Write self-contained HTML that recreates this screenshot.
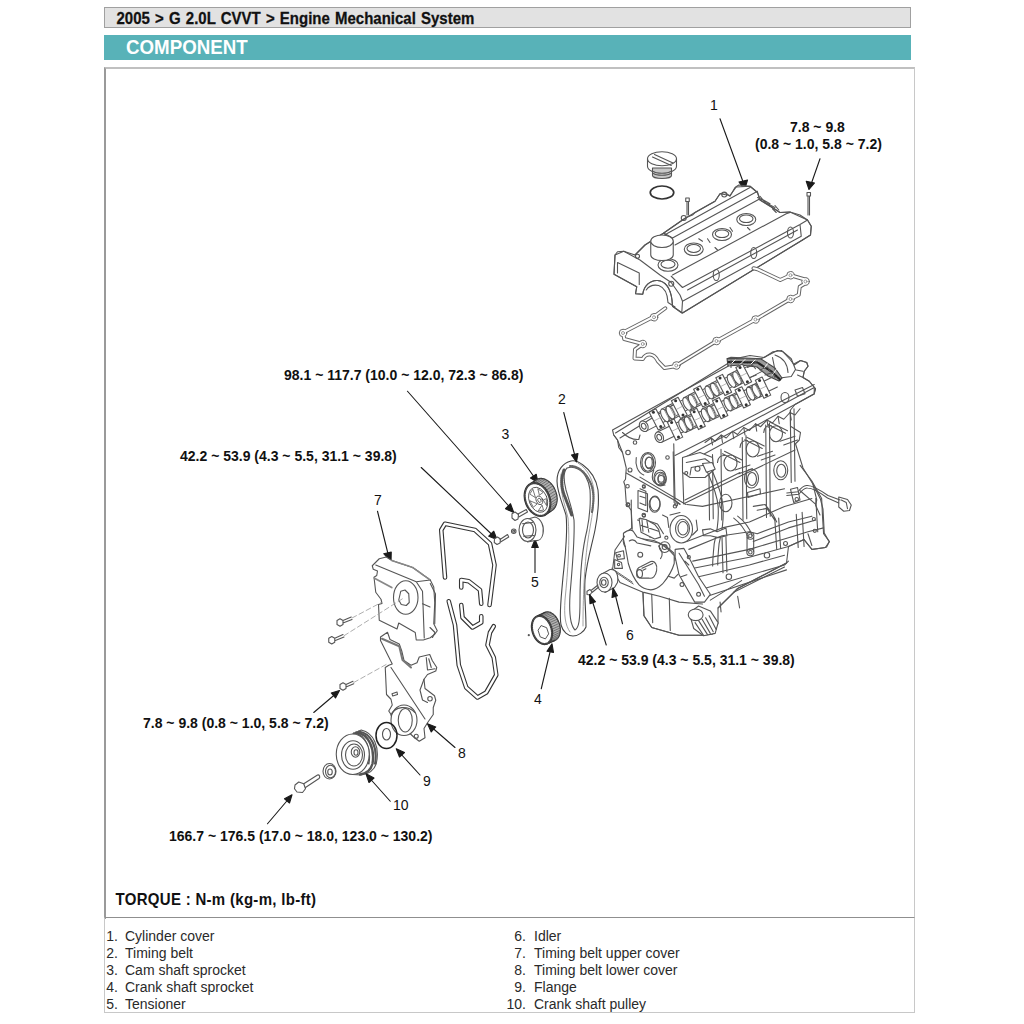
<!DOCTYPE html>
<html><head><meta charset="utf-8">
<style>
html,body{margin:0;padding:0;background:#fff;}
body{width:1024px;height:1024px;position:relative;overflow:hidden;font-family:"Liberation Sans",sans-serif;}
.hdr{position:absolute;left:104px;top:7px;width:805px;height:19px;background:#e2e2e2;border:1.5px solid #a0a0a0;}
.hdr span{position:absolute;left:11.5px;top:2px;font-size:15px;font-weight:bold;color:#111;white-space:nowrap;word-spacing:1px;transform:scaleY(1.1);transform-origin:0 80%;-webkit-text-stroke:0.25px #111;}
.teal{position:absolute;left:104px;top:35px;width:807px;height:25px;background:#58b2b8;}
.teal span{position:absolute;left:22px;top:1px;font-size:19.5px;font-weight:bold;color:#fff;transform:scaleX(0.96);transform-origin:0 0;white-space:nowrap;}
.box{position:absolute;left:104px;top:67px;width:808px;height:850px;border:2px solid #9a9a9a;border-right:1px solid #c8c8c8;border-top:2px solid #c0c0c0;border-bottom:none;}
.list{position:absolute;left:104px;top:917px;width:809px;height:94px;border:1px solid #c8c8c8;border-top:1.5px solid #8f8f8f;}
.t{position:absolute;white-space:nowrap;color:#111;}
.b{font-weight:bold;font-size:14px;}
.n{font-size:14px;}
.li{position:absolute;font-size:14px;color:#2a2a2a;white-space:nowrap;}
.num{position:absolute;font-size:14px;color:#2a2a2a;width:40px;text-align:right;}
svg{position:absolute;left:0;top:0;}
svg *{vector-effect:non-scaling-stroke;}
</style></head><body>
<div class="hdr"><span>2005 &gt; G 2.0L CVVT &gt; Engine Mechanical System</span></div>
<div class="teal"><span>COMPONENT</span></div>
<div class="box"></div>
<div class="list"></div>

<div class="t b" style="left:115.5px;top:891px;font-size:15px;letter-spacing:0.3px;transform:scaleY(1.15);transform-origin:0 80%;">TORQUE : N-m (kg-m, lb-ft)</div>

<div class="num" style="left:78px;top:927.5px;">1.</div><div class="li" style="left:125px;top:927.5px;">Cylinder cover</div>
<div class="num" style="left:486px;top:927.5px;">6.</div><div class="li" style="left:534px;top:927.5px;">Idler</div>
<div class="num" style="left:78px;top:944.6px;">2.</div><div class="li" style="left:125px;top:944.6px;">Timing belt</div>
<div class="num" style="left:486px;top:944.6px;">7.</div><div class="li" style="left:534px;top:944.6px;">Timing belt upper cover</div>
<div class="num" style="left:78px;top:961.7px;">3.</div><div class="li" style="left:125px;top:961.7px;">Cam shaft sprocket</div>
<div class="num" style="left:486px;top:961.7px;">8.</div><div class="li" style="left:534px;top:961.7px;">Timing belt lower cover</div>
<div class="num" style="left:78px;top:978.8px;">4.</div><div class="li" style="left:125px;top:978.8px;">Crank shaft sprocket</div>
<div class="num" style="left:486px;top:978.8px;">9.</div><div class="li" style="left:534px;top:978.8px;">Flange</div>
<div class="num" style="left:78px;top:995.9px;">5.</div><div class="li" style="left:125px;top:995.9px;">Tensioner</div>
<div class="num" style="left:486px;top:995.9px;">10.</div><div class="li" style="left:534px;top:995.9px;">Crank shaft pulley</div>

<div class="t b" style="left:284px;top:367px;">98.1 ~ 117.7 (10.0 ~ 12.0, 72.3 ~ 86.8)</div>
<div class="t b" style="left:180px;top:448px;">42.2 ~ 53.9 (4.3 ~ 5.5, 31.1 ~ 39.8)</div>
<div class="t b" style="left:578px;top:652px;">42.2 ~ 53.9 (4.3 ~ 5.5, 31.1 ~ 39.8)</div>
<div class="t b" style="left:143px;top:715px;">7.8 ~ 9.8 (0.8 ~ 1.0, 5.8 ~ 7.2)</div>
<div class="t b" style="left:169px;top:828px;">166.7 ~ 176.5 (17.0 ~ 18.0, 123.0 ~ 130.2)</div>
<div class="t b" style="left:790px;top:119px;">7.8 ~ 9.8</div>
<div class="t b" style="left:755px;top:136px;">(0.8 ~ 1.0, 5.8 ~ 7.2)</div>

<div class="t n" style="left:710px;top:97px;">1</div>
<div class="t n" style="left:558px;top:391px;">2</div>
<div class="t n" style="left:501.5px;top:426px;">3</div>
<div class="t n" style="left:534px;top:691px;">4</div>
<div class="t n" style="left:531px;top:574px;">5</div>
<div class="t n" style="left:626px;top:627px;">6</div>
<div class="t n" style="left:374px;top:492px;">7</div>
<div class="t n" style="left:458px;top:745px;">8</div>
<div class="t n" style="left:423px;top:773px;">9</div>
<div class="t n" style="left:393px;top:797px;">10</div>

<svg width="1024" height="1024" viewBox="0 0 1024 1024" fill="none" stroke="#555" stroke-width="1.1" stroke-linejoin="round" stroke-linecap="round">
<!-- COVER: B coords page = 600 + x/4, 140 + y/4 -->
<g transform="translate(600,140) scale(0.25)">
 <!-- oil cap -->
 <path d="M190,75 A58,28 0 0 1 306,75 L306,105 A58,28 0 0 1 190,105 Z" fill="#fff"/>
 <path d="M190,75 A58,28 0 0 0 306,75"/>
 <path d="M218,58 L292,92 M210,68 L285,102"/>
 <path d="M210,112 L210,142 A38,12 0 0 0 286,142 L286,112 Z" fill="#c8c8c8"/>
 <path d="M214,126 A36,10 0 0 0 282,126 M214,134 A36,10 0 0 0 282,134"/>
 <ellipse cx="248" cy="210" rx="47" ry="26" stroke="#333" stroke-width="1.7"/>
 <!-- bolts -->
 <path d="M343,232 L357,232 L357,246 L343,246 Z M348,246 L348,300 M354,246 L354,300"/>
 <path d="M828,210 L842,210 L842,224 L828,224 Z M832,224 L832,300 M838,224 L838,300"/>
 <!-- arrows -->
 <path d="M480,-85 L575,175" stroke="#1a1a1a"/>
 <path d="M578,200 L556,168 L590,160 Z" fill="#1a1a1a" stroke="#1a1a1a"/>
 <path d="M880,75 L845,175" stroke="#1a1a1a"/>
 <path d="M836,198 L825,165 L858,172 Z" fill="#1a1a1a" stroke="#1a1a1a"/>
 <!-- cover body silhouette fill -->
 <path d="M60,460 L95,445 L140,460 L180,420 L255,372 L330,320 L380,290 L460,245 L480,215 L520,222 L545,188 L600,185 L630,210 L640,240 L720,290 L760,288 L830,320 L845,345 L842,380 L810,400 L330,692 L290,665 L288,640 C282,595 262,565 230,562 C200,560 175,585 171,617 L142,615 L147,587 L56,537 Z" fill="#fff"/>
 <!-- end face -->
 <path d="M60,460 L56,537 L147,587 L142,615 L171,617 C175,585 200,560 230,562 C262,565 282,595 288,640 L290,665 L327,692 L330,645 L320,620 L285,570 L240,540 L160,480 L95,445 L70,447 Z"/>
 <path d="M70,490 L157,532 L157,578 M70,490 L70,532"/>
 <path d="M185,600 C195,585 215,578 235,582 C258,590 270,612 272,650 M272,650 L300,668"/>
 <!-- back ridge -->
 <path d="M140,460 L180,420 L255,372 L330,320 L345,310 L370,300 L380,290 L460,245 L480,215 L500,210 L520,225 L540,190 L555,180 L600,185 L630,210 L640,240 L690,270 L720,290 L760,288 L800,300 L830,320 L845,345 L842,380 L810,400"/>
 <path d="M255,372 L290,392 L630,205 M290,392 L290,410 M258,380 L600,190"/>
 <path d="M300,420 L640,235"/>
 <!-- front rail -->
 <path d="M290,540 L745,295 L760,290 M330,590 L800,338 L830,320 M330,645 L805,385 M330,692 L810,400 M800,338 L805,385 M285,545 L330,590"/>
 <path d="M350,600 L790,360"/>
 <!-- plug holes -->
 <ellipse cx="272" cy="500" rx="40" ry="25"/><ellipse cx="272" cy="497" rx="28" ry="16"/>
 <ellipse cx="375" cy="437" rx="38" ry="25"/><ellipse cx="375" cy="434" rx="27" ry="16"/>
 <ellipse cx="488" cy="378" rx="38" ry="24"/><ellipse cx="488" cy="375" rx="27" ry="15"/>
 <ellipse cx="585" cy="318" rx="38" ry="24"/><ellipse cx="585" cy="315" rx="27" ry="15"/>
 <!-- filler neck -->
 <path d="M203,405 L203,460 A45,22 0 0 0 293,460 L293,405" fill="#fff"/>
 <ellipse cx="248" cy="405" rx="45" ry="25" fill="#fff"/>
 <!-- tabs -->
 <ellipse cx="465" cy="540" rx="12" ry="22"/><ellipse cx="615" cy="452" rx="12" ry="22"/><ellipse cx="762" cy="370" rx="12" ry="22"/>
 <!-- bosses and details -->
 <circle cx="335" cy="312" r="10"/><circle cx="497" cy="218" r="10"/>
 <path d="M630,230 L650,240 M640,225 L660,250 M650,238 L680,255 M660,250 L700,270 M690,275 L705,290 M700,262 L715,280"/>
 <path d="M395,395 L410,405 M430,395 L440,410 M520,350 L530,365 M460,430 L470,440 M590,350 L600,360"/>
 <circle cx="150" cy="465" r="8"/><circle cx="285" cy="575" r="10"/>
 <!-- gasket -->
 <path d="M261,673 L216,706 L92,770 L97,796 L171,816 L140,838 L138,874 L171,876 C185,850 215,852 232,885 L258,912 L300,905 L466,804 L622,718 L762,636 L795,619 L799,587 L827,570 L827,560 L762,541 L721,560 L630,517 L614,513" stroke="#666" stroke-width="4"/>
 <circle cx="216" cy="709" r="15" fill="#fff" stroke="#666" stroke-width="1"/>
 <circle cx="92" cy="772" r="15" fill="#fff" stroke="#666" stroke-width="1"/>
 <circle cx="171" cy="816" r="15" fill="#fff" stroke="#666" stroke-width="1"/>
 <circle cx="305" cy="902" r="15" fill="#fff" stroke="#666" stroke-width="1"/>
 <circle cx="466" cy="804" r="15" fill="#fff" stroke="#666" stroke-width="1"/>
 <circle cx="622" cy="718" r="15" fill="#fff" stroke="#666" stroke-width="1"/>
 <circle cx="762" cy="636" r="15" fill="#fff" stroke="#666" stroke-width="1"/>
 <circle cx="822" cy="566" r="15" fill="#fff" stroke="#666" stroke-width="1"/>
 <circle cx="762" cy="541" r="15" fill="#fff" stroke="#666" stroke-width="1"/>
 <path d="M261,673 L216,706 L92,770 L97,796 L171,816 L140,838 L138,874 L171,876 C185,850 215,852 232,885 L258,912 L300,905 L466,804 L622,718 L762,636 L795,619 L799,587 L827,570 L827,560 L762,541 L721,560 L630,517 L614,513" stroke="#fff" stroke-width="2"/>
 <circle cx="216" cy="709" r="6" stroke="#888" stroke-width="0.8"/>
 <circle cx="92" cy="772" r="6" stroke="#888" stroke-width="0.8"/>
 <circle cx="171" cy="816" r="6" stroke="#888" stroke-width="0.8"/>
 <circle cx="305" cy="902" r="6" stroke="#888" stroke-width="0.8"/>
 <circle cx="466" cy="804" r="6" stroke="#888" stroke-width="0.8"/>
 <circle cx="622" cy="718" r="6" stroke="#888" stroke-width="0.8"/>
 <circle cx="762" cy="636" r="6" stroke="#888" stroke-width="0.8"/>
 <circle cx="822" cy="566" r="6" stroke="#888" stroke-width="0.8"/>
 <circle cx="762" cy="541" r="6" stroke="#888" stroke-width="0.8"/>
</g>
</g>

<!-- ENGINE: C coords page = 600 + x/4, 340 + y/4 -->
<g transform="translate(600,340) scale(0.25)">
 <path d="M50,360 L512,105 L525,78 L600,62 L657,70 L692,47 L727,42 L762,80 L777,100 L802,82 L827,90 L832,105 L817,125 L812,150 L837,165 L862,195 L857,215 L780,258 L762,280 L762,345 L802,370 L797,400 L782,415 L812,512 L852,577 L882,637 L892,677 L897,772 L917,807 L907,827 L902,830 L848,838 L816,798 L754,826 L746,892 L551,994 L472,1072 L472,1134 L449,1177 L410,1181 L316,1181 L207,1150 L176,1103 L172,1009 L80,970 L50,920 L60,840 L100,782 L115,762 L127,752 L125,682 L105,652 L100,582 L95,567 L102,557 L105,512 L90,450 L70,400 L55,380 Z" fill="#fff"/>
 <!-- head top edges -->
 <path d="M55,380 L70,400 L75,430 L90,450 M62,372 L519,89 M80,392 L300,255"/>
 <!-- chain housing -->
 <path d="M512,73 L524,69 L645,75 L710,42 L732,47 L765,75 L782,118 L765,146 L720,152"/>
 <path d="M508,74 L644,76 L700,112 L728,152 L716,164 L672,144 L628,108 L560,100 L512,104 Z" fill="#9a9a9a" stroke="#444"/>
 <path d="M515,88 L630,90 L686,126 L720,158" stroke="#222" stroke-width="2.2" stroke-dasharray="1.5 1.5"/>
 <path d="M520,100 L540,80 M560,98 L580,78 M600,100 L620,80 M650,120 L670,95 M690,140 L705,118" stroke="#fff" stroke-width="1"/>
 <path d="M524,80 L524,110 M700,60 C730,70 750,95 752,130 M690,70 L700,120"/>
 <path d="M777,95 L802,82 L827,90 L832,105 L817,125 L812,150 L837,165 L862,195 L857,210 M790,140 L812,150 M785,120 L812,125"/>
 <!-- camshafts -->
 <path d="M185.1,364.5 L650.1,124.5 M164.9,325.5 L629.9,85.5"/>
 <ellipse cx="259.4" cy="301.4" rx="13" ry="28" transform="rotate(-27.3 259.4 301.4)" fill="#fff"/>
 <path d="M272.3,326.3 L291.8,316.2 M246.6,276.5 L266.1,266.5"/>
 <path d="M275.7,315.5 L257.4,280.0 M281.9,312.3 L263.6,276.8" stroke="#888" stroke-width="0.8"/>
 <ellipse cx="281.6" cy="290.0" rx="13" ry="28" transform="rotate(-27.3 281.6 290.0)" fill="#fff"/>
 <path d="M294.5,314.8 L314.0,304.8 M268.8,265.1 L288.3,255.0"/>
 <path d="M297.9,304.1 L279.6,268.5 M304.1,300.9 L285.8,265.3" stroke="#888" stroke-width="0.8"/>
 <ellipse cx="348.3" cy="255.6" rx="13" ry="28" transform="rotate(-27.3 348.3 255.6)" fill="#fff"/>
 <path d="M361.1,280.4 L380.7,270.4 M335.4,230.7 L355.0,220.6"/>
 <path d="M364.6,269.7 L346.2,234.1 M370.8,266.5 L352.4,230.9" stroke="#888" stroke-width="0.8"/>
 <ellipse cx="370.5" cy="244.1" rx="13" ry="28" transform="rotate(-27.3 370.5 244.1)" fill="#fff"/>
 <path d="M383.3,269.0 L402.9,258.9 M357.7,219.2 L377.2,209.1"/>
 <path d="M386.8,258.2 L368.4,222.7 M393.0,255.0 L374.7,219.4" stroke="#888" stroke-width="0.8"/>
 <ellipse cx="437.1" cy="209.7" rx="13" ry="28" transform="rotate(-27.3 437.1 209.7)" fill="#fff"/>
 <path d="M450.0,234.6 L469.5,224.5 M424.3,184.8 L443.9,174.7"/>
 <path d="M453.4,223.8 L435.1,188.3 M459.6,220.6 L441.3,185.0" stroke="#888" stroke-width="0.8"/>
 <ellipse cx="459.4" cy="198.2" rx="13" ry="28" transform="rotate(-27.3 459.4 198.2)" fill="#fff"/>
 <path d="M472.2,223.1 L491.8,213.0 M446.5,173.4 L466.1,163.3"/>
 <path d="M475.6,212.3 L457.3,176.8 M481.9,209.1 L463.5,173.6" stroke="#888" stroke-width="0.8"/>
 <ellipse cx="526.0" cy="163.8" rx="13" ry="28" transform="rotate(-27.3 526.0 163.8)" fill="#fff"/>
 <path d="M538.8,188.7 L558.4,178.6 M513.2,139.0 L532.7,128.9"/>
 <path d="M542.3,177.9 L523.9,142.4 M548.5,174.7 L530.2,139.2" stroke="#888" stroke-width="0.8"/>
 <ellipse cx="548.2" cy="152.4" rx="13" ry="28" transform="rotate(-27.3 548.2 152.4)" fill="#fff"/>
 <path d="M561.1,177.3 L580.6,167.2 M535.4,127.5 L554.9,117.4"/>
 <path d="M564.5,166.5 L546.2,130.9 M570.7,163.3 L552.4,127.7" stroke="#888" stroke-width="0.8"/>
 <polygon points="196.6,288.8 223.3,275.1 260.0,346.1 233.3,359.9" fill="#fff"/>
 <path d="M215.0,324.4 L241.6,310.6" stroke="#999" stroke-width="0.7"/>
 <circle cx="213.6" cy="289.0" r="6" fill="#333" stroke="none"/>
 <circle cx="243.0" cy="345.9" r="6" fill="#333" stroke="none"/>
 <polygon points="285.5,243.0 312.2,229.2 348.9,300.3 322.2,314.0" fill="#fff"/>
 <path d="M303.8,278.5 L330.5,264.7" stroke="#999" stroke-width="0.7"/>
 <circle cx="302.5" cy="243.2" r="6" fill="#333" stroke="none"/>
 <circle cx="331.9" cy="300.1" r="6" fill="#333" stroke="none"/>
 <polygon points="374.4,197.1 401.0,183.3 437.7,254.4 411.1,268.2" fill="#fff"/>
 <path d="M392.7,232.6 L419.4,218.9" stroke="#999" stroke-width="0.7"/>
 <circle cx="391.4" cy="197.3" r="6" fill="#333" stroke="none"/>
 <circle cx="420.7" cy="254.2" r="6" fill="#333" stroke="none"/>
 <polygon points="463.2,151.2 489.9,137.5 526.6,208.6 499.9,222.3" fill="#fff"/>
 <path d="M481.6,186.8 L508.2,173.0" stroke="#999" stroke-width="0.7"/>
 <circle cx="480.2" cy="151.5" r="6" fill="#333" stroke="none"/>
 <circle cx="509.6" cy="208.3" r="6" fill="#333" stroke="none"/>
 <polygon points="543.2,109.9 569.9,96.2 606.6,167.3 579.9,181.0" fill="#fff"/>
 <path d="M561.5,145.5 L588.2,131.7" stroke="#999" stroke-width="0.7"/>
 <circle cx="560.2" cy="110.2" r="6" fill="#333" stroke="none"/>
 <circle cx="589.6" cy="167.0" r="6" fill="#333" stroke="none"/>
 <ellipse cx="175.0" cy="345.0" rx="16.5" ry="22" transform="rotate(-27.3 175.0 345.0)" fill="#fff"/>
 <ellipse cx="175.0" cy="345.0" rx="8.8" ry="12.1" transform="rotate(-27.3 175.0 345.0)"/>
 <path d="M246.5,408.9 L709.5,187.9 M227.5,369.1 L690.5,148.1"/>
 <ellipse cx="331.8" cy="343.8" rx="13" ry="28" transform="rotate(-25.5 331.8 343.8)" fill="#fff"/>
 <path d="M343.8,369.0 L363.7,359.6 M319.7,318.5 L339.6,309.0"/>
 <path d="M347.6,358.4 L330.4,322.3 M353.9,355.4 L336.7,319.3" stroke="#888" stroke-width="0.8"/>
 <ellipse cx="354.3" cy="333.0" rx="13" ry="28" transform="rotate(-25.5 354.3 333.0)" fill="#fff"/>
 <path d="M366.4,358.3 L386.2,348.8 M342.3,307.7 L362.1,298.3"/>
 <path d="M370.2,347.6 L352.9,311.5 M376.5,344.6 L359.2,308.5" stroke="#888" stroke-width="0.8"/>
 <ellipse cx="422.0" cy="300.7" rx="13" ry="28" transform="rotate(-25.5 422.0 300.7)" fill="#fff"/>
 <path d="M434.1,326.0 L453.9,316.5 M409.9,275.4 L429.8,265.9"/>
 <path d="M437.8,315.3 L420.6,279.2 M444.2,312.3 L426.9,276.2" stroke="#888" stroke-width="0.8"/>
 <ellipse cx="444.6" cy="289.9" rx="13" ry="28" transform="rotate(-25.5 444.6 289.9)" fill="#fff"/>
 <path d="M456.6,315.2 L476.5,305.7 M432.5,264.7 L452.4,255.2"/>
 <path d="M460.4,304.5 L443.2,268.4 M466.7,301.5 L449.5,265.4" stroke="#888" stroke-width="0.8"/>
 <ellipse cx="512.3" cy="257.6" rx="13" ry="28" transform="rotate(-25.5 512.3 257.6)" fill="#fff"/>
 <path d="M524.3,282.9 L544.2,273.4 M500.2,232.3 L520.0,222.9"/>
 <path d="M528.1,272.2 L510.9,236.1 M534.4,269.2 L517.2,233.1" stroke="#888" stroke-width="0.8"/>
 <ellipse cx="534.8" cy="246.8" rx="13" ry="28" transform="rotate(-25.5 534.8 246.8)" fill="#fff"/>
 <path d="M546.9,272.1 L566.7,262.6 M522.8,221.6 L542.6,212.1"/>
 <path d="M550.6,261.5 L533.4,225.4 M557.0,258.4 L539.7,222.3" stroke="#888" stroke-width="0.8"/>
 <ellipse cx="602.5" cy="214.5" rx="13" ry="28" transform="rotate(-25.5 602.5 214.5)" fill="#fff"/>
 <path d="M614.6,239.8 L634.4,230.3 M590.4,189.3 L610.3,179.8"/>
 <path d="M618.3,229.1 L601.1,193.0 M624.7,226.1 L607.4,190.0" stroke="#888" stroke-width="0.8"/>
 <ellipse cx="625.1" cy="203.8" rx="13" ry="28" transform="rotate(-25.5 625.1 203.8)" fill="#fff"/>
 <path d="M637.1,229.0 L657.0,219.6 M613.0,178.5 L632.9,169.0"/>
 <path d="M640.9,218.4 L623.7,182.3 M647.2,215.4 L630.0,179.3" stroke="#888" stroke-width="0.8"/>
 <polygon points="269.4,329.2 296.5,316.3 330.9,388.5 303.9,401.4" fill="#fff"/>
 <path d="M286.6,365.3 L313.7,352.4" stroke="#999" stroke-width="0.7"/>
 <circle cx="286.4" cy="330.0" r="6" fill="#333" stroke="none"/>
 <circle cx="314.0" cy="387.7" r="6" fill="#333" stroke="none"/>
 <polygon points="359.7,286.1 386.7,273.2 421.2,345.4 394.1,358.3" fill="#fff"/>
 <path d="M376.9,322.2 L404.0,309.3" stroke="#999" stroke-width="0.7"/>
 <circle cx="376.6" cy="286.9" r="6" fill="#333" stroke="none"/>
 <circle cx="404.2" cy="344.6" r="6" fill="#333" stroke="none"/>
 <polygon points="449.9,243.1 477.0,230.1 511.4,302.3 484.4,315.3" fill="#fff"/>
 <path d="M467.1,279.2 L494.2,266.2" stroke="#999" stroke-width="0.7"/>
 <circle cx="466.9" cy="243.8" r="6" fill="#333" stroke="none"/>
 <circle cx="494.4" cy="301.6" r="6" fill="#333" stroke="none"/>
 <polygon points="540.1,200.0 567.2,187.1 601.7,259.3 574.6,272.2" fill="#fff"/>
 <path d="M557.4,236.1 L584.4,223.2" stroke="#999" stroke-width="0.7"/>
 <circle cx="557.1" cy="200.7" r="6" fill="#333" stroke="none"/>
 <circle cx="584.7" cy="258.5" r="6" fill="#333" stroke="none"/>
 <polygon points="621.4,161.2 648.4,148.3 682.9,220.5 655.8,233.4" fill="#fff"/>
 <path d="M638.6,197.3 L665.7,184.4" stroke="#999" stroke-width="0.7"/>
 <circle cx="638.3" cy="162.0" r="6" fill="#333" stroke="none"/>
 <circle cx="665.9" cy="219.7" r="6" fill="#333" stroke="none"/>
 <ellipse cx="237.0" cy="389.0" rx="16.5" ry="22" transform="rotate(-25.5 237.0 389.0)" fill="#fff"/>
 <ellipse cx="237.0" cy="389.0" rx="8.8" ry="12.1" transform="rotate(-25.5 237.0 389.0)"/>
 <path d="M590,110 L610,100 L622,115 M640,120 L670,108 L680,125 M660,140 L690,130 L700,150 M600,150 L625,140" />
 <!-- rail band -->
 <path d="M300,462 L857,178 M330,475 L857,190 M330,503 L857,216 M857,190 L857,216"/>
 <path d="M420,410 L445,392 L460,405 L485,380 L505,392 L530,365 L550,378 L575,350 L598,362 L622,335 L642,347 L668,320 L690,332 L712,305 L735,317 L760,290 L780,300 L800,275"/>
 <path d="M445,392 L450,420 M485,380 L490,410 M530,365 L535,395 M575,350 L580,380 M622,335 L627,365 M668,320 L673,350 M712,305 L717,335 M760,290 L765,320"/>
 <ellipse cx="740" cy="230" rx="16" ry="20"/><path d="M780,200 L810,190 L820,215 L790,225 Z"/>
 <!-- head side face -->
 <path d="M295,415 L300,642 L320,657 M330,503 L335,655"/>
 <path d="M335,655 L560,545 L780,440 M340,640 L560,530"/>
 <path d="M435,465 L438,720 M450,458 L453,715 M484,437 L487,720 M569,390 L572,720 M584,382 L587,715 M663,340 L666,710 M678,332 L681,705 M761,282 L765,570 M776,275 L780,565"/>
 <!-- bracket on head side -->
 <path d="M330,470 L400,450 L450,470 L455,520 L420,550 L360,550 L330,530 Z" fill="#fff"/>
 <path d="M345,490 L420,475 L440,490 M360,540 L365,510 L420,500"/>
 <circle cx="390" cy="515" r="10"/><circle cx="345" cy="532" r="6"/>
 <!-- coil tubes and clips -->
 <g>
 <ellipse cx="522" cy="492" rx="26" ry="32" fill="#fff"/><ellipse cx="611" cy="436" rx="26" ry="32" fill="#fff"/><ellipse cx="704" cy="375" rx="26" ry="32" fill="#fff"/>
 <path d="M490,455 L560,490 M498,445 L568,480 M579,399 L649,434 M587,389 L657,424 M672,338 L742,373 M680,328 L750,363"/>
 <path d="M540,520 L600,500 M555,535 L610,515 M630,465 L690,445 M645,480 L700,460 M720,405 L780,385 M735,420 L790,400"/>
 <path d="M470,490 C470,470 485,460 500,462 M560,430 C560,410 575,400 590,402 M655,370 C655,350 670,340 685,342"/>
 </g>
 <ellipse cx="606" cy="554" rx="28" ry="38"/><ellipse cx="608" cy="556" rx="18" ry="26"/>
 <ellipse cx="723" cy="521" rx="28" ry="38"/><ellipse cx="725" cy="523" rx="18" ry="26"/>
 <ellipse cx="503" cy="652" rx="25" ry="35"/>
 <path d="M590,610 L640,595 L642,615 L592,630 Z"/>
 <!-- timing end face upper -->
 <path d="M90,370 C110,390 130,400 155,398 L160,380"/>
 <ellipse cx="192" cy="490" rx="30" ry="40"/><ellipse cx="198" cy="492" rx="17" ry="23"/>
 <ellipse cx="240" cy="550" rx="24" ry="30"/><ellipse cx="245" cy="552" rx="13" ry="17"/>
 <path d="M145,470 C140,500 150,530 175,540 M215,520 C200,560 215,585 260,580"/>
 <circle cx="112" cy="450" r="9"/><circle cx="120" cy="520" r="8"/><circle cx="140" cy="410" r="7"/><circle cx="270" cy="470" r="7"/>
 <!-- joint line and timing face lower -->
 <path d="M105,532 L300,642 L320,657"/>
 <path d="M152,602 L190,615 L190,687 L152,672 Z M160,625 L182,632"/>
 <ellipse cx="220" cy="654" rx="20" ry="30"/>
 <circle cx="110" cy="585" r="7"/><circle cx="175" cy="585" r="6"/><circle cx="112" cy="658" r="7"/><circle cx="300" cy="665" r="7"/><circle cx="175" cy="700" r="7"/>
 <path d="M150,720 L190,730 L210,760 L200,790 M250,700 L270,710 L275,750"/>
 <path d="M100,772 L145,792 L215,802 L260,822 L295,852 L300,882"/>
 <!-- crank seal housing -->
 <ellipse cx="325" cy="757" rx="45" ry="55" fill="#fff"/>
 <ellipse cx="330" cy="754" rx="28" ry="37"/>
 <ellipse cx="332" cy="753" rx="20" ry="27"/>
 <path d="M280,700 L320,690 M370,780 L390,760 L385,720"/>
 <!-- harness -->
 <path d="M747,612 L792,607 C805,590 815,580 828,582 C850,580 880,600 912,622 L960,640"/>
 <path d="M747,622 L795,617 C808,600 818,590 830,592 C852,592 880,610 910,632 L955,652"/>
 <path d="M955,628 L990,638 L1005,660 L998,682 L975,685 L955,668 Z M965,640 L985,650 L990,675"/>
 <path d="M762,597 L790,590 L800,640 L775,650 Z"/><circle cx="787" cy="637" r="7"/>
 <path d="M852,577 L867,640 L862,660 L880,700"/>
</g>

<!-- ENGINE LOWER BLOCK: K coords page = 640 + x/5.12, 440 + y/5.12 -->
<g transform="translate(640,440) scale(0.1953125)">
 <path d="M240,330 L320,340 L740,250"/>
 <!-- timing face holes -->
 <ellipse cx="40" cy="115" rx="30" ry="45"/><ellipse cx="45" cy="115" rx="18" ry="28"/>
 <ellipse cx="105" cy="200" rx="30" ry="35"/><ellipse cx="108" cy="202" rx="16" ry="20"/>
 <ellipse cx="75" cy="330" rx="28" ry="40"/>
 <path d="M0,250 L30,262 L30,335 L0,322"/>
 <path d="M0,190 L235,330 M0,400 L90,430 L120,480 M170,60 L175,320"/>
 <circle cx="185" cy="330" r="8"/><circle cx="20" cy="240" r="7"/><circle cx="135" cy="500" r="8"/>
 <!-- dipstick tube -->
 <path d="M335,140 C360,200 395,270 400,340 C405,420 395,470 380,530 C375,580 372,610 372,645"/>
 <path d="M360,135 C385,195 420,265 425,340 C430,420 418,470 405,530 C400,580 398,610 398,640"/>
 <path d="M320,120 L370,115 L385,150 L340,165 Z" fill="#fff"/>
 <path d="M320,460 L360,455 L395,470 L440,450 L445,490 L400,500 L360,490 L325,490 Z" fill="#fff"/>
 <!-- main ribs -->
 <path d="M240,520 L420,450 L560,420 L740,340 L880,300 M250,560 L420,490 L560,470"/>
 <path d="M560,470 L600,480 L760,420 L880,390 M580,520 L760,450 L900,410"/>
 <path d="M500,390 C540,420 560,450 575,490 M480,400 C520,430 540,465 555,500"/>
 <path d="M580,340 L640,330 L680,380 L700,420 M600,360 L650,350 L690,410"/>
 <circle cx="565" cy="490" r="18"/><circle cx="565" cy="490" r="9"/><circle cx="565" cy="575" r="18"/><circle cx="565" cy="575" r="9"/>
 <path d="M548,500 L548,570 M582,500 L582,570"/>
 <path d="M270,620 L560,560 L760,500 L860,470 L940,450 M280,655 L560,600 L760,545"/>
 <path d="M300,700 L560,640 L740,590 M330,760 L740,640 L760,620 M345,800 L750,665"/>
 <path d="M690,400 L700,560 M710,400 L720,555 M800,380 L810,550 M830,370 L840,545 M420,500 L425,680 M440,495 L445,675"/>
 <circle cx="455" cy="700" r="14"/><circle cx="650" cy="590" r="14"/><circle cx="745" cy="530" r="10"/><circle cx="890" cy="405" r="8"/><circle cx="895" cy="465" r="8"/>
 <!-- right end -->
 <path d="M820,130 L880,210 L930,300 L935,400 L940,480 L970,520 L950,550 L880,560 L840,510 L760,545"/>
 <path d="M860,480 L880,540 M900,300 L910,470 M820,260 L900,330"/>
 <!-- bracket -->
 <path d="M180,560 L225,555 L260,620 L300,700 L360,790 L330,830 L280,830 L240,760 L200,690 L180,600 Z" fill="#fff"/>
 <path d="M200,580 L300,740 L330,800 M230,620 L250,640 M210,700 L240,690"/>
 <circle cx="215" cy="740" r="10"/><circle cx="300" cy="790" r="10"/><circle cx="250" cy="600" r="8"/>
 <!-- pan -->
 <path d="M15,780 L20,900 L60,960 L200,1000 L320,1000 M20,780 L100,800 L200,830 L320,840"/>
 <path d="M60,790 L65,935 M150,810 L155,975 M410,830 L415,880"/>
 <path d="M400,860 L500,760 L750,630 M360,820 L520,720"/>
 <path d="M480,780 L740,650 M500,800 L510,860"/>
 <!-- oil filter -->
 <path d="M252,885 L300,850 L360,875 L400,935 L385,990 L325,1002 L275,965 Z" fill="#fff"/>
 <ellipse cx="285" cy="895" rx="38" ry="30" fill="#fff"/>
 <path d="M300,925 L345,995 M318,918 L360,990 M336,910 L375,982 M354,900 L390,970 M282,935 L325,1000"/>
</g>

<!-- OIL PUMP HOUSING: zoom coords page = 600 + x/10.24, 500 + y/10.24 -->
<g transform="translate(600,500) scale(0.09765625)">
 <path d="M400,190 L470,200 L560,250 L600,300 L620,380 L560,400 L420,330 Z" fill="#fff"/>
 <path d="M430,205 L440,320 M480,212 L500,330 M420,260 L600,320"/>
 <path d="M240,340 C280,310 320,300 340,320 L380,380 C450,410 520,430 600,440 C660,470 720,520 760,570 L760,650 C740,720 700,790 640,860 C600,900 560,920 520,920 C470,915 430,900 400,870 C350,810 310,720 290,650 C275,560 260,480 240,400 Z" fill="#fff"/>
 <path d="M300,420 C330,400 360,410 380,440 L520,470 M600,470 C640,520 650,560 620,600"/>
 <path d="M380,760 C370,720 390,690 420,680 L520,630 C560,620 590,660 580,720 C570,780 540,810 500,800 L420,800 C395,800 385,785 380,760 Z" fill="#fff"/>
 <ellipse cx="405" cy="755" rx="30" ry="42"/>
 <path d="M430,700 L540,650 M440,720 L470,705"/>
 <circle cx="412" cy="560" r="25"/>
 <circle cx="662" cy="482" r="55"/><circle cx="662" cy="482" r="25"/>
 <path d="M250,370 C230,400 235,450 260,480 M160,540 L240,520 L250,600 L180,610 Z M150,610 L220,640 L230,700 L150,700 Z"/>
 <circle cx="195" cy="570" r="14"/><circle cx="190" cy="660" r="12"/>
 <path d="M120,700 L330,840 M130,720 L340,860" stroke-width="0.9"/>
 <path d="M320,0 L320,100 L330,300 M700,780 L760,800 L800,760"/>
 <circle cx="285" cy="50" r="18"/><circle cx="450" cy="160" r="15"/>
</g>

<!-- ENGINE LOWER: D coords page = 570 + x/4, 500 + y/4 -->
<g transform="translate(570,500) scale(0.25)">
 <!-- idler 6 -->
 <path d="M120,300 L160,278 C185,275 195,300 190,330 L178,350 L140,370 Z" fill="#fff"/>
 <ellipse cx="138" cy="330" rx="30" ry="38" fill="#fff"/>
 <ellipse cx="136" cy="330" rx="17" ry="21"/><ellipse cx="135" cy="330" rx="9" ry="11"/>
 <!-- bolt -->
 <path d="M68,365 L80,358 L88,368 L80,380 L68,378 Z M84,362 L112,340 M88,370 L115,348"/>
 <!-- arrows -->
 <path d="M210,495 L180,375" stroke="#1a1a1a"/><path d="M172,352 L168,390 L190,383 Z" fill="#1a1a1a" stroke="#1a1a1a"/>
 <path d="M145,580 L88,400" stroke="#1a1a1a"/><path d="M78,378 L80,415 L102,407 Z" fill="#1a1a1a" stroke="#1a1a1a"/>
</g>

<!-- BELT page coords -->
<g>
 <path d="M571,461 C563,463 557,470 557,481 C557,492 563,505 566,515 C568,530 566,550 563,577 C561,600 559,615 561,625 C563,632 568,636 573,636 C578,636 584,632 586,627 C586,610 584,595 585,580 C587,560 592,545 595,530 C598,515 599,500 598,490 C596,478 590,470 583,465 C579,462 575,460 571,461 Z" fill="#fff" stroke="#444"/>
 <path d="M567,468 C563,472 564,482 566,490 C569,500 572,508 574,520 C575,540 572,570 570,595 C569,612 570,625 575,630 C579,628 580,620 580,600 C580,575 582,550 587,530 C590,515 591,505 590,490 C589,480 584,472 578,469 C574,467 570,467 567,468 Z" stroke="#555"/>
 <path d="M561,474 C559,490 565,505 568,518 C570,540 568,570 565,600 C564,615 565,625 570,632" stroke="#888" stroke-width="0.8"/>
 <path d="M578,463 C588,469 594,481 594,494 C594,510 590,525 588,540 C585,560 583,590 583,626" stroke="#888" stroke-width="0.8"/>
 <path d="M564,470 C561,478 561,488 565,497 C568,505 570,510 572,516" stroke="#555" stroke-width="3" stroke-dasharray="0.9 1.1"/>
 <path d="M570,466 C578,466 586,472 591,484 C594,492 594,500 592,512" stroke="#666" stroke-width="2.2" stroke-dasharray="0.9 1.3"/>
</g>

<!-- TIMING: E coords page = 400 + x/4, 380 + y/4 -->
<g transform="translate(400,380) scale(0.25)">
 <!-- labels arrows -->
 <path d="M30,45 L440,510" stroke="#1a1a1a"/><path d="M455,530 L422,515 L442,495 Z" fill="#1a1a1a" stroke="#1a1a1a"/>
 <path d="M85,350 L372,622" stroke="#1a1a1a"/><path d="M388,638 L355,625 L375,605 Z" fill="#1a1a1a" stroke="#1a1a1a"/>
 <path d="M445,258 L538,390" stroke="#1a1a1a"/><path d="M552,410 L522,392 L545,377 Z" fill="#1a1a1a" stroke="#1a1a1a"/>
 <path d="M655,130 L700,305" stroke="#1a1a1a"/><path d="M706,328 L686,300 L712,294 Z" fill="#1a1a1a" stroke="#1a1a1a"/>
 <path d="M540,770 L540,660" stroke="#1a1a1a"/><path d="M540,638 L527,670 L553,670 Z" fill="#1a1a1a" stroke="#1a1a1a"/>
 <!-- bolts -->
 <path d="M448,535 L460,528 L474,538 L472,556 L460,562 L448,552 Z" fill="#fff"/>
 <path d="M472,536 L505,518 L510,528 L475,548"/>
 <path d="M378,635 L390,628 L402,636 L400,652 L388,658 L377,650 Z" fill="#fff"/>
 <path d="M400,638 L430,618 L435,628 L402,648"/>
 <circle cx="455" cy="605" r="9"/><circle cx="455" cy="605" r="4"/>
 <!-- tensioner 5 -->
 <path d="M505,558 L540,548 C565,555 578,585 572,615 C568,635 555,645 540,642 L510,648 Z" fill="#fff"/>
 <ellipse cx="510" cy="600" rx="34" ry="46" fill="#fff"/>
 <ellipse cx="512" cy="600" rx="22" ry="32"/>
 <path d="M490,575 L530,570 M495,625 L535,622"/>
 <!-- guide pieces -->
 <g stroke="#333" stroke-width="4.6">
 <path d="M180,790 L165,600 L180,575 L300,600 L360,655 L378,740 L368,820 L358,900"/>
 <path d="M245,830 L245,800 L275,805 L320,840 L325,895"/>
 <path d="M195,885 L220,980 L235,1140 L265,1230 L310,1270 L345,1250 L385,1180 L375,1110 L350,1060 L360,1010 L375,985"/>
 <path d="M245,900 L250,950 L290,990 L325,970 L325,945"/>
 </g>
 <g stroke="#fff" stroke-width="2.4">
 <path d="M180,790 L165,600 L180,575 L300,600 L360,655 L378,740 L368,820 L358,900"/>
 <path d="M245,830 L245,800 L275,805 L320,840 L325,895"/>
 <path d="M195,885 L220,980 L235,1140 L265,1230 L310,1270 L345,1250 L385,1180 L375,1110 L350,1060 L360,1010 L375,985"/>
 <path d="M245,900 L250,950 L290,990 L325,970 L325,945"/>
 </g>
 <g transform="translate(0,720)">
 <path d="M565,515 L602,360" stroke="#1a1a1a"/><path d="M608,335 L588,365 L614,370 Z" fill="#1a1a1a" stroke="#1a1a1a"/>
 </g>
</g>

<!-- SPROCKETS page coords -->
<g transform="translate(537.5,499.5) rotate(-22)">
 <ellipse cx="7.5" cy="-1.5" rx="12.5" ry="17.5" fill="#b0b0b0" stroke="#333" stroke-width="1.1"/>
 <path d="M1.96,-17.28 L9.46,-18.78 M3.86,-16.64 L11.36,-18.14 M5.67,-15.59 L13.17,-17.09 M7.35,-14.16 L14.85,-15.66 M8.84,-12.37 L16.34,-13.87 M10.11,-10.29 L17.61,-11.79 M11.14,-7.94 L18.64,-9.44 M11.89,-5.41 L19.39,-6.91 M12.35,-2.74 L19.85,-4.24 M12.50,0.00 L20.00,-1.50 M12.35,2.74 L19.85,1.24 M11.89,5.41 L19.39,3.91 M11.14,7.94 L18.64,6.44 M10.11,10.29 L17.61,8.79 M8.84,12.37 L16.34,10.87 M7.35,14.16 L14.85,12.66 M5.67,15.59 L13.17,14.09 M3.86,16.64 L11.36,15.14 M1.96,17.28 L9.46,15.78 " stroke="#555" stroke-width="0.7"/>
 <path d="M0.0,-17.5 L7.5,-19.0 M0,17.5 L7.5,16.0" stroke="#333"/>
 <ellipse cx="0" cy="0" rx="12.5" ry="17.5" fill="#fff" stroke="#333" stroke-width="1.2"/>
 <ellipse cx="0" cy="0" rx="11.7" ry="16.7" stroke="#444" stroke-width="1.6" stroke-dasharray="1 1.1"/>
 <ellipse cx="0.5" cy="0.5" rx="9" ry="13" stroke="#444" stroke-width="0.9"/>
 <ellipse cx="1.5" cy="1.5" rx="3.2" ry="4.5" stroke="#444" stroke-width="0.9"/>
 <ellipse cx="1.5" cy="1.5" rx="1.6" ry="2.2" stroke="#444" stroke-width="0.8"/>
 <path d="M5.60,2.52 L8.48,2.53 L6.23,8.77 Z" stroke="#555" stroke-width="0.8"/>
 <path d="M2.08,7.29 L1.63,12.09 L-3.18,10.92 Z" stroke="#555" stroke-width="0.8"/>
 <path d="M-2.24,4.06 L-6.78,5.63 L-7.50,-1.33 Z" stroke="#555" stroke-width="0.8"/>
 <path d="M-1.39,-2.71 L-5.13,-7.92 L-0.77,-11.06 Z" stroke="#555" stroke-width="0.8"/>
 <path d="M3.45,-3.67 L4.30,-9.83 L7.72,-4.81 Z" stroke="#555" stroke-width="0.8"/>
</g>
<g transform="translate(542,630) rotate(-18)">
 <ellipse cx="8.5" cy="-1" rx="10" ry="15" fill="#b0b0b0" stroke="#333" stroke-width="1.1"/>
 <path d="M1.56,-14.82 L10.06,-15.82 M3.09,-14.27 L11.59,-15.27 M4.54,-13.37 L13.04,-14.37 M5.88,-12.14 L14.38,-13.14 M7.07,-10.61 L15.57,-11.61 M8.09,-8.82 L16.59,-9.82 M8.91,-6.81 L17.41,-7.81 M9.51,-4.64 L18.01,-5.64 M9.88,-2.35 L18.38,-3.35 M10.00,0.00 L18.50,-1.00 M9.88,2.35 L18.38,1.35 M9.51,4.64 L18.01,3.64 M8.91,6.81 L17.41,5.81 M8.09,8.82 L16.59,7.82 M7.07,10.61 L15.57,9.61 M5.88,12.14 L14.38,11.14 M4.54,13.37 L13.04,12.37 M3.09,14.27 L11.59,13.27 M1.56,14.82 L10.06,13.82 " stroke="#555" stroke-width="0.7"/>
 <path d="M0.0,-15 L8.5,-16 M0,15 L8.5,14" stroke="#333"/>
 <ellipse cx="0" cy="0" rx="10" ry="15" fill="#fff" stroke="#333" stroke-width="1.2"/>
 <ellipse cx="0" cy="0" rx="9.2" ry="14.2" stroke="#444" stroke-width="1.6" stroke-dasharray="1 1.1"/>
 <ellipse cx="0" cy="2" rx="0" ry="0" stroke="#444" stroke-width="0.9"/>
 <polygon points="4.83,6.00 0.50,9.50 -3.83,6.00 -3.83,-1.00 0.50,-4.50 4.83,-1.00" stroke="#444" stroke-width="0.9"/>
</g>
<circle cx="528.8" cy="635.2" r="1.1" fill="#555" stroke="none"/>

<!-- COVERS: G coords page = 300 + x/4, 540 + y/4 -->
<g transform="translate(300,540) scale(0.25)">
 <!-- arrow 7 -->
 <path d="M310,-115 L352,55" stroke="#1a1a1a"/><path d="M364,88 L335,55 L365,48 Z" fill="#1a1a1a" stroke="#1a1a1a"/>
 <!-- cover 7 -->
 <path d="M289,103 L317,75 L345,68 L367,82 L451,110 L521,160 L535,188 L539,251 L535,335 L549,363 L539,377 L521,391 L493,400 L465,400 L461,370 L395,332 L388,356 L317,321 L314,258 L328,254 L324,237 L303,209 L296,149 L307,142 L310,124 L293,117 Z" fill="#fff"/>
 <path d="M303,100 L465,167 L521,160 M465,167 L490,205 L497,392 M521,174 L542,216 L539,335"/>
 <path d="M298,153 L367,190" stroke-width="1.8" stroke="#888"/>
 <path d="M367,82 L451,110 L521,160" stroke-width="1.6" stroke="#888" stroke-dasharray="1 1"/>
 <ellipse cx="423" cy="230" rx="49" ry="67" fill="#fff"/>
 <path d="M403,205 L420,200 L435,215 L437,250 L425,262 L405,258 L395,240 Z"/>
 <path d="M490,255 L520,268 M520,350 L540,370 L530,390"/>
 <!-- cover 7 bolts -->
 <path d="M148,322 L160,315 L172,322 L172,338 L160,345 L148,338 Z M172,322 L205,308 M172,332 L208,318"/>
 <path d="M208,312 L325,250" stroke-width="0.8" stroke="#999" stroke-dasharray="5 3"/>
 <path d="M115,393 L127,386 L139,393 L139,409 L127,416 L115,409 Z M139,393 L172,378 M139,403 L176,388"/>
 <path d="M176,383 L410,235" stroke-width="0.8" stroke="#999" stroke-dasharray="5 3"/>
 <!-- cover 8 -->
 <path d="M322,388 L350,369 L360,398 L397,416 L407,444 L416,482 L444,501 L468,491 L477,468 L519,458 L529,482 L547,510 L543,524 L510,538 L496,557 L500,594 L538,623 L543,641 L533,670 L533,698 L510,731 L496,754 L500,791 L477,805 L458,791 L439,773 L411,777 L374,735 L364,698 L355,684 L369,660 L364,637 L346,618 L341,510 L355,501 L369,496 L336,430 L322,402 Z" fill="#fff"/>
 <path d="M328,395 L397,425 L410,480 L444,510" stroke-width="2" stroke="#777"/>
 <path d="M364,510 L500,716 M496,557 L480,600 L490,640 L510,650"/>
 <path d="M505,470 L510,520 L540,515 M515,475 L525,510"/>
 <ellipse cx="416" cy="721" rx="52" ry="61" fill="#fff"/>
 <ellipse cx="421" cy="721" rx="28" ry="47"/>
 <path d="M364,700 C380,665 430,660 460,690"/>
 <path d="M368,615 L388,608 L390,618 L371,624 Z"/>
 <circle cx="520" cy="635" r="9"/><circle cx="465" cy="785" r="8"/>
 <!-- cover 8 bolt -->
 <path d="M160,578 L172,571 L184,578 L184,594 L172,601 L160,594 Z M184,578 L212,565 M184,588 L215,575"/>
 <path d="M215,570 L350,495" stroke-width="0.8" stroke="#999" stroke-dasharray="5 3"/>
 <!-- arrow 7.8 left -->
 <path d="M55,690 L135,622" stroke="#1a1a1a"/><path d="M158,602 L125,612 L142,632 Z" fill="#1a1a1a" stroke="#1a1a1a"/>
 <!-- flange 9 -->
 <ellipse cx="346" cy="782" rx="42" ry="52" stroke-width="1.5" stroke="#222"/>
 <ellipse cx="346" cy="777" rx="16" ry="23"/>
 <!-- pulley 10 -->
 <path d="M211,776 L245,760 C295,770 320,830 305,895 C295,925 275,935 245,940 L211,938 Z" fill="#fff"/>
 <path d="M225,770 C275,775 300,835 290,895 C282,925 265,935 240,938" stroke-width="2.4"/>
 <path d="M235,766 C285,772 312,832 300,895" stroke-width="2"/>
 <path d="M215,772 C262,778 285,835 275,895" stroke-width="1.6"/>
 <ellipse cx="211" cy="857" rx="66" ry="81" fill="#fff"/>
 <ellipse cx="212" cy="860" rx="46" ry="57"/>
 <ellipse cx="216" cy="860" rx="34" ry="44"/>
 <ellipse cx="222" cy="848" rx="17" ry="21"/>
 <ellipse cx="224" cy="850" rx="8" ry="11"/>
 <!-- washer -->
 <ellipse cx="118" cy="925" rx="26" ry="31" fill="#fff"/>
 <ellipse cx="122" cy="926" rx="20" ry="25"/>
 <ellipse cx="120" cy="928" rx="9" ry="12"/>
 <!-- bolt -->
 <path d="M-20,980 L-5,968 L15,975 L22,995 L10,1010 L-12,1008 L-22,995 Z" fill="#fff"/>
 <path d="M15,975 L70,940 C78,938 82,948 76,954 L22,990"/>
 <!-- arrows -->
 <path d="M-130,1135 L-45,1035" stroke="#1a1a1a"/><path d="M-32,1019 L-62,1035 L-42,1052 Z" fill="#1a1a1a" stroke="#1a1a1a"/>
 <path d="M480,940 L400,852" stroke="#1a1a1a"/><path d="M385,835 L398,868 L418,850 Z" fill="#1a1a1a" stroke="#1a1a1a"/>
 <path d="M361,1045 L278,952" stroke="#1a1a1a"/><path d="M264,935 L276,970 L296,952 Z" fill="#1a1a1a" stroke="#1a1a1a"/>
 <path d="M620,830 L530,752" stroke="#1a1a1a"/><path d="M510,735 L525,768 L543,748 Z" fill="#1a1a1a" stroke="#1a1a1a"/>
</g>


</svg>
</body></html>
